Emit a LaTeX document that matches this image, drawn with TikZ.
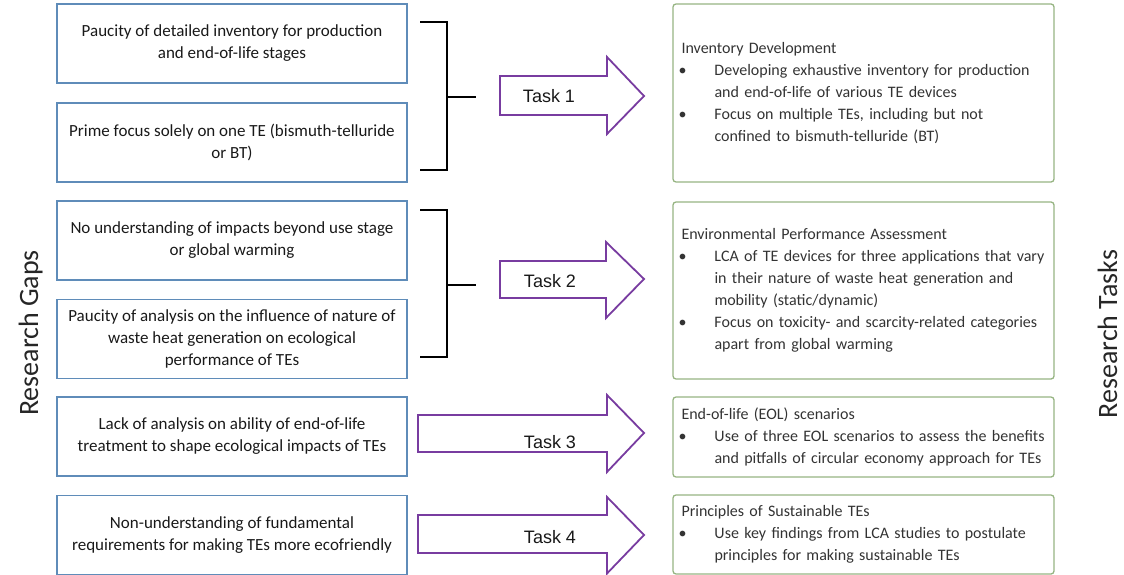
\documentclass[tikz,border=0pt]{standalone}
\usepackage{fontspec}
\setmainfont{Carlito}
\newfontfamily\arialfont{Liberation Sans}
\definecolor{gapblue}{RGB}{95,140,185}
\definecolor{taskgreen}{RGB}{150,180,130}
\definecolor{arrowpurple}{RGB}{120,60,160}
\begin{document}
\begin{tikzpicture}[x=1pt,y=-1pt,
  gap/.style={draw=gapblue, line width=1.3pt, minimum width=350pt, minimum height=79pt,
    align=center, font=\fontsize{17}{22}\selectfont, text=black!90, inner sep=0pt},
  taskbox/.style={draw=taskgreen, line width=1.3pt, rounded corners=3pt, minimum width=381pt,
    inner xsep=8pt, inner ysep=0pt, text width=364pt, align=left,
    font=\fontsize{16}{22}\selectfont, text=black!80},
  fatarrow/.style={draw=arrowpurple, line width=1.8pt, fill=white, line join=miter},
  tasklabel/.style={font=\arialfont\fontsize{18}{20}\selectfont, text=black!90},
  brackh/.style={line width=2.6pt, black},
  brackv/.style={line width=1.6pt, black},
  sidelabel/.style={font=\fontsize{28}{30}\selectfont, rotate=90, anchor=base, text=black!85}]

\useasboundingbox (0,0) rectangle (1124,575);

% side labels
\node[sidelabel] (gapslabel) at (38,333) {Research Gaps};
\node[sidelabel] (taskslabel) at (1117,334) {Research Tasks};

% research gaps
\node[gap] (g1) at (232,43.5) {Paucity of detailed inventory for production\\and end-of-life stages};
\node[gap] (g2) at (232,142.5) {Prime focus solely on one TE (bismuth-telluride\\or BT)};
\node[gap] (g3) at (232,240.5) {No understanding of impacts beyond use stage\\or global warming};
\node[gap] (g4) at (232,339) {Paucity of analysis on the influence of nature of\\waste heat generation on ecological\\performance of TEs};
\node[gap] (g5) at (232,436.5) {Lack of analysis on ability of end-of-life\\treatment to shape ecological impacts of TEs};
\node[gap] (g6) at (232,535) {Non-understanding of fundamental\\requirements for making TEs more ecofriendly};

% research tasks
\newcommand{\bul}{\makebox[33pt][l]{\hspace*{-3pt}\textbullet}}
\newcommand{\cont}{\hspace*{33pt}}
\node[taskbox, minimum height=178pt] (t1) at (863.5,93) {Inventory Development\\
\bul Developing exhaustive inventory for production\\
\cont and end-of-life of various TE devices\\
\bul Focus on multiple TEs, including but not\\
\cont confined to bismuth-telluride (BT)};
\node[taskbox, minimum height=177pt] (t2) at (863.5,290.5) {Environmental Performance Assessment\\
\bul LCA of TE devices for three applications that vary\\
\cont in their nature of waste heat generation and\\
\cont mobility (static/dynamic)\\
\bul Focus on toxicity- and scarcity-related categories\\
\cont apart from global warming};
\node[taskbox, minimum height=80pt] (t3) at (863.5,437) {End-of-life (EOL) scenarios\\
\bul Use of three EOL scenarios to assess the benefits\\
\cont and pitfalls of circular economy approach for TEs};
\node[taskbox, minimum height=79pt] (t4) at (863.5,534.5) {Principles of Sustainable TEs\\
\bul Use key findings from LCA studies to postulate\\
\cont principles for making sustainable TEs};

% brackets
\coordinate (b1top) at (420,22);
\coordinate (b1topv) at (447,22);
\coordinate (b1bot) at (420,170);
\coordinate (b1botv) at (447,170);
\coordinate (b1mid) at (447,97);
\coordinate (b1end) at (476,97);
\draw[brackh] (b1top) -- ([xshift=0.8pt]b1topv);
\draw[brackh] (b1bot) -- ([xshift=0.8pt]b1botv);
\draw[brackv] (b1topv) -- (b1botv);
\draw[brackh] (b1mid) -- (b1end);

\coordinate (b2top) at (420,210);
\coordinate (b2topv) at (447,210);
\coordinate (b2bot) at (420,357);
\coordinate (b2botv) at (447,357);
\coordinate (b2mid) at (447,285);
\coordinate (b2end) at (476,285);
\draw[brackh] (b2top) -- ([xshift=0.8pt]b2topv);
\draw[brackh] (b2bot) -- ([xshift=0.8pt]b2botv);
\draw[brackv] (b2topv) -- (b2botv);
\draw[brackh] (b2mid) -- (b2end);

% block arrows
\draw[fatarrow] (500,76) -- (607,76) -- (607,57) -- (644,96) -- (607,134) -- (607,115) -- (500,115) -- cycle;
\draw[fatarrow] (500,261) -- (606,261) -- (606,242) -- (644,279) -- (606,318) -- (606,298) -- (500,298) -- cycle;
\draw[fatarrow] (418,415) -- (607,415) -- (607,395) -- (644,433) -- (607,472) -- (607,452) -- (418,452) -- cycle;
\draw[fatarrow] (418,515) -- (607,515) -- (607,497) -- (644,535) -- (607,573.5) -- (607,553) -- (418,553) -- cycle;

\node[tasklabel] (task1) at (549,96) {Task 1};
\node[tasklabel] (task2) at (550,281) {Task 2};
\node[tasklabel] (task3) at (550,442) {Task 3};
\node[tasklabel] (task4) at (550,537) {Task 4};
\end{tikzpicture}
\end{document}
